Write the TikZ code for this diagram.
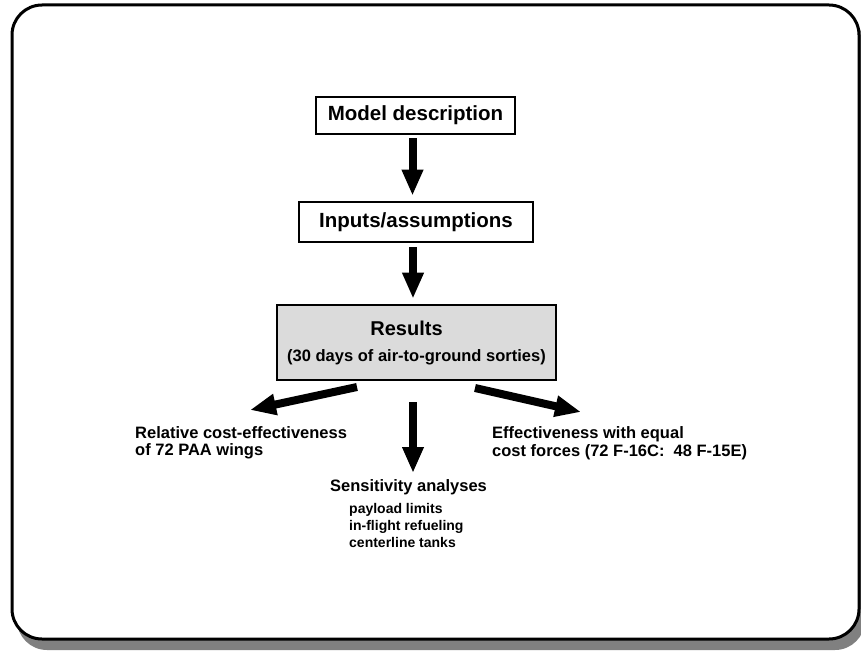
\documentclass[tikz,border=0pt]{standalone}
\usepackage{fontspec}
\setmainfont{Liberation Sans}
\usetikzlibrary{arrows.meta}
\tikzset{
  boxnode/.style={draw, line width=2.6pt, inner sep=0pt, align=center,
    font=\bfseries\fontsize{20.5}{24}\selectfont},
  resnode/.style={boxnode, fill=black!14},
  lbl/.style={inner sep=0pt, align=left, font=\bfseries\fontsize{16.5}{17.5}\selectfont},
  sublbl/.style={inner sep=0pt, align=left, font=\bfseries\fontsize{14}{17}\selectfont},
  bigarrow/.style={line width=8pt, -{Triangle[length=26pt,width=20pt]}},
}
\begin{document}
\begin{tikzpicture}[x=1pt,y=-1pt]
\useasboundingbox (0,0) rectangle (861,650);
\clip (0,0) rectangle (861,650);
% frame with shadow
\fill[black!50, rounded corners=30pt] (17,16) rectangle (865,650);
\draw[line width=3pt, fill=white, rounded corners=30pt] (12,5) rectangle (859,639);
% nodes
\node[boxnode, minimum width=199pt, minimum height=37pt] (model) at (415.5,115.5) {Model description};
\node[boxnode, minimum width=234pt, minimum height=40pt] (inputs) at (416,222) {Inputs/assumptions};
\node[resnode, minimum width=279pt, minimum height=75pt] (res) at (416.5,342.5)
  {\fontsize{20}{27}\selectfont Results\hspace*{20pt}\\[2pt]{\fontsize{16.5}{20}\selectfont(30 days of air-to-ground sorties)}};
\node[lbl, anchor=west] (rel) at (135,443) {Relative cost-effectiveness\\of 72 PAA wings};
\node[lbl, anchor=west] (eff) at (492,443) {Effectiveness with equal\\cost forces (72 F-16C:\ \ 48 F-15E)};
\node[lbl, anchor=center] (sens) at (408.5,487) {Sensitivity analyses};
\node[sublbl, anchor=north west] (subs) at (349,503) {payload limits\\in-flight refueling\\centerline tanks};
% connector end points
\coordinate (l0) at (357,387);
\coordinate (l1) at (250,410);
\coordinate (r0) at (475,388);
\coordinate (r1) at (581,412);
\coordinate (m0) at (413,402);
\coordinate (m1) at (413,473);
% connectors
\draw[bigarrow, shorten <=3pt, shorten >=5pt] ([xshift=-3pt]model.south) -- ([xshift=-3pt]model.south |- inputs.north);
\draw[bigarrow, shorten <=4pt, shorten >=5pt] ([xshift=-3pt]inputs.south) -- ([xshift=-3pt]inputs.south |- res.north);
\draw[bigarrow] (l0) -- (l1);
\draw[bigarrow] (m0) -- (m1);
\draw[bigarrow] (r0) -- (r1);
\end{tikzpicture}
\end{document}
